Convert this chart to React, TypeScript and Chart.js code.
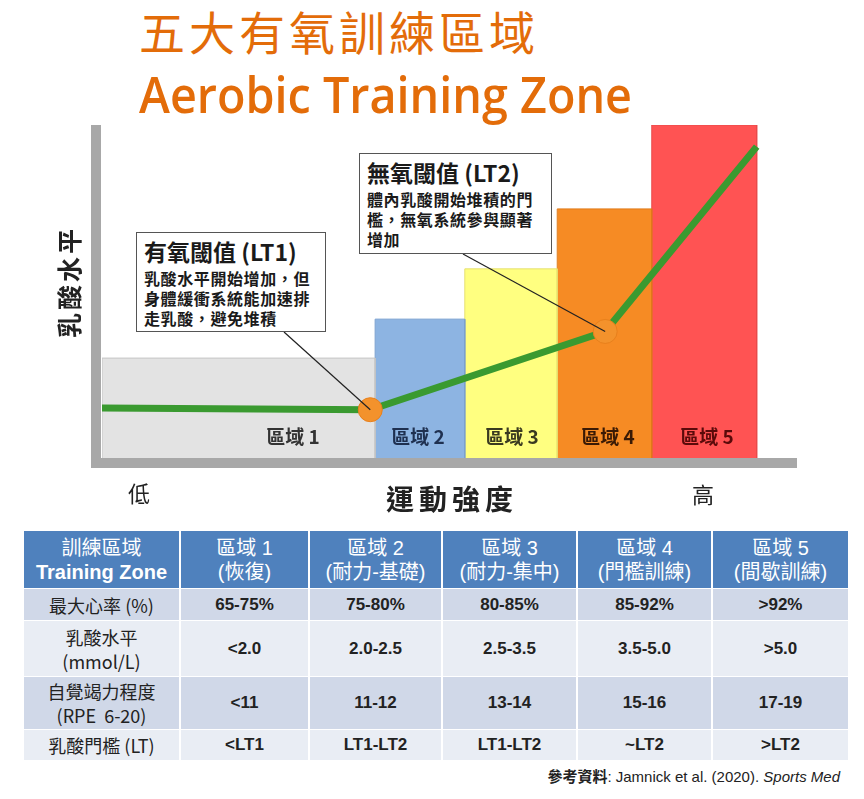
import React, { useEffect, useRef } from 'react';
import { Chart, registerables } from 'chart.js';

Chart.register(...registerables);

// ---------- chart data ----------
const zoneNames = ['區域 1', '區域 2', '區域 3', '區域 4', '區域 5'];
const zoneStart = [0, 39.3, 52.2, 65.5, 79.1];
const zoneEnd = [39.3, 52.2, 65.5, 79.1, 94.2];
const zoneLevel = [3.0, 4.17, 5.68, 7.48, 10];
const zoneFill = ['#e3e3e3', '#8db4e2', '#ffff80', '#f68b24', '#ff5353'];
const zoneEdge = ['#c4c4c4', '#7aa0d0', '#e6e070', '#e07a18', '#e84a4a'];
const zoneLabelColor = ['#333333', '#1f3050', '#3a3a20', '#3a1a05', '#5a0a0a'];

const curveX = [0, 38.6, 72.4, 94.2];
const curveY = [1.5, 1.45, 3.8, 9.35];
const curvePointLabel = ['', 'LT1', 'LT2', ''];

const yAxisTitle = '乳酸水平';
const xAxisTitle = '運動強度';
const xLow = '低';
const xHigh = '高';

const lt1Title = '有氧閾值 (LT1)';
const lt1Lines = ['乳酸水平開始增加，但', '身體緩衝系統能加速排', '走乳酸，避免堆積'];
const lt2Title = '無氧閾值 (LT2)';
const lt2Lines = ['體內乳酸開始堆積的門', '檻，無氧系統參與顯著', '增加'];

// ---------- table data ----------
const tableHeaders = [
  ['訓練區域', 'Training Zone'],
  ['區域 1', '(恢復)'],
  ['區域 2', '(耐力-基礎)'],
  ['區域 3', '(耐力-集中)'],
  ['區域 4', '(門檻訓練)'],
  ['區域 5', '(間歇訓練)'],
];
const rowLabels = [['最大心率 (%)'], ['乳酸水平', '(mmol/L)'], ['自覺竭力程度', '(RPE  6-20)'], ['乳酸門檻 (LT)']];
const heartRate = ['65-75%', '75-80%', '80-85%', '85-92%', '>92%'];
const lactate = ['<2.0', '2.0-2.5', '2.5-3.5', '3.5-5.0', '>5.0'];
const rpe = ['<11', '11-12', '13-14', '15-16', '17-19'];
const ltRange = ['<LT1', 'LT1-LT2', 'LT1-LT2', '~LT2', '>LT2'];
const tableRows = [heartRate, lactate, rpe, ltRange];
const referenceLabel = '參考資料';
const reference = ': Jamnick et al. (2020). ';
const referenceJournal = 'Sports Med';

const CJK = "'Noto Sans CJK TC', 'Noto Sans', sans-serif";
const LATIN_CJK = "'Liberation Sans', Arial, 'Noto Sans CJK TC', sans-serif";
const ORANGE = '#e36c09';

const leaderAnchors: Record<string, [number, number]> = { LT1: [284, 332], LT2: [463, 254] };

const leaderPlugin = {
  id: 'leaders',
  afterDatasetsDraw(chart: any) {
    const { ctx, scales } = chart;
    ctx.save();
    ctx.strokeStyle = '#222';
    ctx.lineWidth = 1.2;
    curvePointLabel.forEach((lab, i) => {
      if (!lab) return;
      const [ax, ay] = leaderAnchors[lab];
      ctx.beginPath();
      ctx.moveTo(ax, ay);
      ctx.lineTo(scales.x.getPixelForValue(curveX[i]), scales.y.getPixelForValue(curveY[i]));
      ctx.stroke();
    });
    ctx.restore();
  },
};

function ChartCanvas() {
  const ref = useRef<HTMLCanvasElement>(null);
  useEffect(() => {
    if (!ref.current) return;
    const zoneSets = zoneNames.map((name, i) => ({
      label: name,
      data: [
        { x: zoneStart[i], y: 0 },
        { x: zoneStart[i], y: zoneLevel[i] },
        { x: zoneEnd[i], y: zoneLevel[i] },
        { x: zoneEnd[i], y: 0 },
      ],
      fill: 'origin',
      backgroundColor: zoneFill[i],
      borderColor: zoneEdge[i],
      borderWidth: 1,
      pointRadius: 0,
      tension: 0,
      order: 2,
    }));
    const curve = {
      label: 'lactate',
      data: curveX.map((x, i) => ({ x, y: curveY[i] })),
      borderColor: '#3a9a30',
      borderWidth: 7,
      fill: false,
      tension: 0,
      pointRadius: curvePointLabel.map((l) => (l ? 12 : 0)),
      pointBackgroundColor: '#f3922c',
      pointBorderColor: '#e8801c',
      pointBorderWidth: 1,
      order: 0,
    };
    const chart = new Chart(ref.current, {
      type: 'line',
      data: { datasets: [...zoneSets, curve] as any },
      options: {
        animation: false,
        responsive: false,
        devicePixelRatio: 1,
        layout: { padding: { left: 102, right: 67, top: 125, bottom: 62 } },
        scales: {
          x: { type: 'linear', min: 0, max: 100, display: false },
          y: { type: 'linear', min: 0, max: 10, display: false },
        },
        plugins: { legend: { display: false }, tooltip: { enabled: false } },
      },
      plugins: [leaderPlugin],
    });
    return () => chart.destroy();
  }, []);
  return <canvas ref={ref} width={864} height={520} style={{ position: 'absolute', left: 0, top: 0 }} />;
}

const zoneLabelX = [293, 418, 512, 608, 707];

function Callout({ left, top, width, height, title, lines }: any) {
  return (
    <div
      style={{
        position: 'absolute',
        left,
        top,
        width,
        height,
        boxSizing: 'border-box',
        border: '1px solid #555',
        background: '#fff',
        fontFamily: CJK,
        color: '#1a1a1a',
        paddingLeft: 7,
      }}
    >
      <div style={{ fontSize: 23, fontWeight: 700, lineHeight: '26px', marginTop: 5, whiteSpace: 'nowrap' }}>{title}</div>
      <div style={{ marginTop: 4 }}>
        {lines.map((l: string, i: number) => (
          <div key={i} style={{ fontSize: 16, fontWeight: 700, lineHeight: '20px', letterSpacing: 0.6, whiteSpace: 'nowrap' }}>
            {l}
          </div>
        ))}
      </div>
    </div>
  );
}

function Table() {
  const cols = '155px 127px 131px 133px 133px 135px';
  const rowsH = '57px 31px 55px 52px 30px';
  const cells: any[] = [];
  tableHeaders.forEach((h, i) => {
    cells.push(
      <div
        key={'h' + i}
        style={{
          background: '#4f81bd',
          color: '#fff',
          display: 'flex',
          flexDirection: 'column',
          alignItems: 'center',
          justifyContent: 'center',
          fontFamily: LATIN_CJK,
          fontSize: 20,
          lineHeight: '24px',
        }}
      >
        <div>{h[0]}</div>
        <div style={{ fontWeight: i === 0 ? 700 : 400 }}>{h[1]}</div>
      </div>
    );
  });
  tableRows.forEach((row, r) => {
    const bg = r % 2 === 0 ? '#d0d8e8' : '#e9edf4';
    cells.push(
      <div
        key={'l' + r}
        style={{
          background: bg,
          display: 'flex',
          flexDirection: 'column',
          alignItems: 'center',
          justifyContent: 'center',
          fontFamily: CJK,
          fontSize: 18,
          lineHeight: '24px',
          color: '#222',
        }}
      >
        {rowLabels[r].map((t, k) => (
          <div key={k} style={{ whiteSpace: 'pre' }}>{t}</div>
        ))}
      </div>
    );
    row.forEach((v, c) => {
      cells.push(
        <div
          key={'c' + r + '-' + c}
          style={{
            background: bg,
            display: 'flex',
            alignItems: 'center',
            justifyContent: 'center',
            fontFamily: LATIN_CJK,
            fontWeight: 700,
            fontSize: 17,
            color: '#222',
          }}
        >
          {v}
        </div>
      );
    });
  });
  return (
    <div
      style={{
        position: 'absolute',
        left: 24,
        top: 531,
        width: 824,
        display: 'grid',
        gridTemplateColumns: cols,
        gridTemplateRows: rowsH,
        columnGap: 2,
        rowGap: 1,
        background: '#fff',
      }}
    >
      {cells}
    </div>
  );
}

export default function App() {
  return (
    <div style={{ position: 'absolute', left: 0, top: 0, width: 864, height: 799, background: '#fff', overflow: 'hidden' }}>
      {/* Titles */}
      <div style={{ position: 'absolute', left: 139, top: 7, fontFamily: CJK, fontSize: 46, lineHeight: '46px', letterSpacing: 4, color: ORANGE, whiteSpace: 'nowrap' }}>
        五大有氧訓練區域
      </div>
      <div
        style={{
          position: 'absolute',
          left: 139,
          top: 65,
          fontFamily: "'Open Sans', 'Noto Sans', sans-serif",
          fontSize: 51,
          fontWeight: 600,
          lineHeight: '56px',
          color: ORANGE,
          whiteSpace: 'nowrap',
          transform: 'scaleX(0.916)',
          transformOrigin: 'left top',
        }}
      >
        Aerobic Training Zone
      </div>

      <ChartCanvas />

      {/* axes */}
      <div style={{ position: 'absolute', left: 91, top: 125, width: 10, height: 343, background: '#a8a8a8' }} />
      <div style={{ position: 'absolute', left: 91, top: 458, width: 706, height: 10, background: '#a8a8a8' }} />

      {/* zone labels */}
      {zoneNames.map((z, i) => (
        <div
          key={z}
          style={{
            position: 'absolute',
            left: zoneLabelX[i] - 40,
            width: 80,
            top: 424,
            textAlign: 'center',
            fontFamily: CJK,
            fontSize: 19,
            lineHeight: '24px',
            fontWeight: 700,
            color: zoneLabelColor[i],
          }}
        >
          {z}
        </div>
      ))}

      {/* axis labels */}
      <div
        style={{
          position: 'absolute',
          left: 68 - 70,
          top: 282 - 16,
          width: 140,
          textAlign: 'center',
          transform: 'rotate(-90deg)',
          fontFamily: CJK,
          fontSize: 25,
          lineHeight: '32px',
          fontWeight: 700,
          letterSpacing: 3,
          color: '#222',
        }}
      >
        {yAxisTitle}
      </div>
      <div style={{ position: 'absolute', left: 139 - 20, width: 40, top: 478, textAlign: 'center', fontFamily: CJK, fontSize: 22, lineHeight: '28px', color: '#222' }}>
        {xLow}
      </div>
      <div style={{ position: 'absolute', left: 703 - 20, width: 40, top: 479, textAlign: 'center', fontFamily: CJK, fontSize: 22, lineHeight: '28px', color: '#222' }}>
        {xHigh}
      </div>
      <div style={{ position: 'absolute', left: 452 - 100, width: 200, top: 480, textAlign: 'center', fontFamily: CJK, fontSize: 28, lineHeight: '36px', fontWeight: 700, letterSpacing: 5, color: '#222' }}>
        {xAxisTitle}
      </div>

      <Callout left={136} top={232} width={190} height={100} title={lt1Title} lines={lt1Lines} />
      <Callout left={359} top={153} width={193} height={101} title={lt2Title} lines={lt2Lines} />

      <Table />

      <div
        style={{
          position: 'absolute',
          right: 24,
          top: 766,
          fontFamily: "'Liberation Sans Narrow', 'Arial Narrow', 'Liberation Sans', 'Noto Sans CJK TC', sans-serif",
          fontSize: 15,
          lineHeight: '20px',
          color: '#222',
          whiteSpace: 'pre',
        }}
      >
        <span style={{ fontFamily: CJK, fontWeight: 700 }}>{referenceLabel}</span>
        {reference}
        <span style={{ fontStyle: 'italic' }}>{referenceJournal}</span>
      </div>
    </div>
  );
}
